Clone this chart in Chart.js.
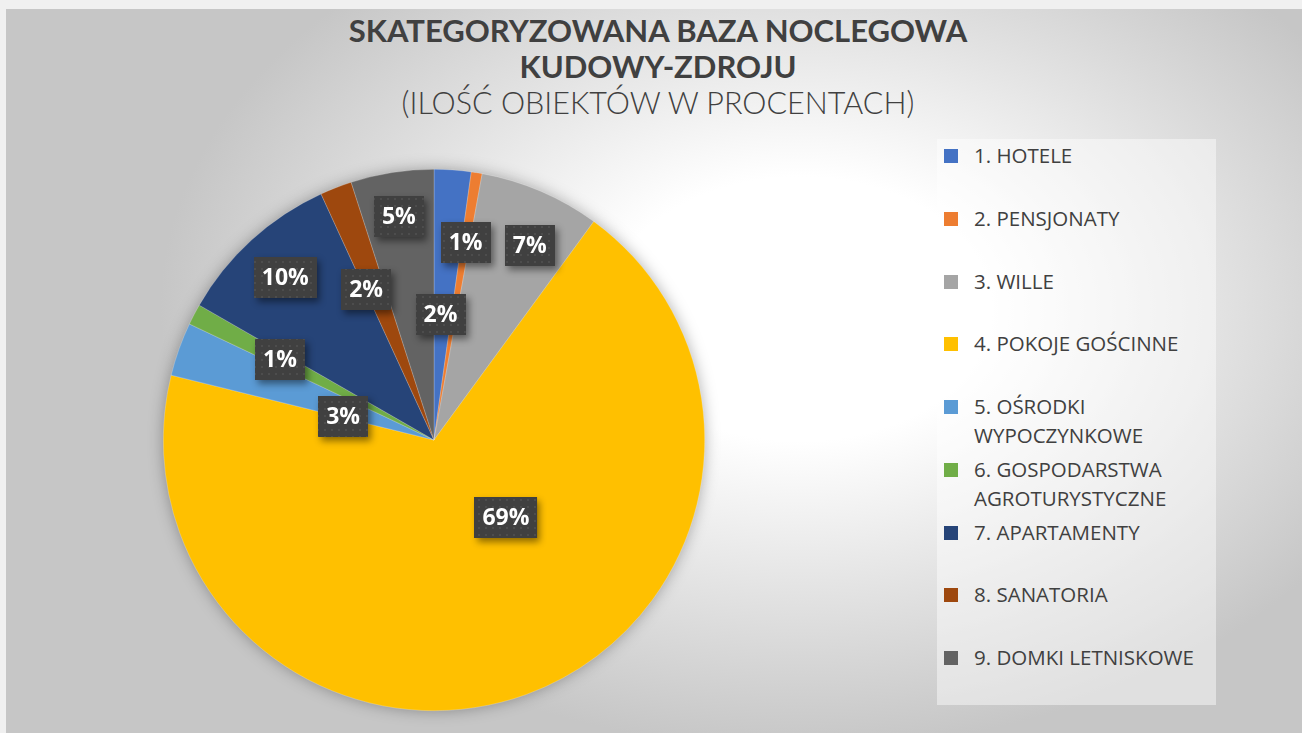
<!DOCTYPE html>
<html>
<head>
<meta charset="utf-8">
<script src="https://cdn.jsdelivr.net/npm/chart.js@4"></script>
<style>
  html, body { margin: 0; padding: 0; }
  body { width: 1302px; height: 733px; background: #f0f0f0; position: relative; overflow: hidden; }
  #slide {
    position: absolute; left: 6px; top: 9px; width: 1296px; height: 724px;
    background: radial-gradient(ellipse 640px 440px at 794px 300px, #ffffff 30%, #c6c6c6 100%);
  }
  #title {
    position: absolute; left: 0; top: 12px; width: 1316px; text-align: center;
    color: #404040; font-family: Lato, "Open Sans", sans-serif; line-height: 36px;
  }
  #title .main { font-weight: 700; font-size: 31px; }
  #title .sub { font-weight: 300; font-size: 30.5px; }
  #legendBox {
    position: absolute; left: 937px; top: 139px; width: 279px; height: 566px;
    background: rgba(255, 255, 255, 0.45);
  }
  .item {
    position: absolute; left: 974px; width: 238px;
    font-family: "Open Sans", sans-serif; font-size: 20.5px; line-height: 29px; color: #404040;
  }
  .swatch { position: absolute; left: -30px; top: 8px; width: 14px; height: 14px; }
  canvas { position: absolute; left: 0; top: 0; }
</style>
</head>
<body>
<div id="slide"></div>
<div id="title">
  <div class="main">SKATEGORYZOWANA BAZA NOCLEGOWA</div>
  <div class="main">KUDOWY-ZDROJU</div>
  <div class="sub">(ILOŚĆ OBIEKTÓW W PROCENTACH)</div>
</div>
<div id="legendBox"></div>
<div id="legend"></div>
<canvas id="pie" width="1302" height="733"></canvas>
<script>
// categories and shares (percent of objects)
const CATEGORIES = [
  '1. HOTELE', '2. PENSJONATY', '3. WILLE', '4. POKOJE GOŚCINNE',
  '5. OŚRODKI WYPOCZYNKOWE', '6. GOSPODARSTWA AGROTURYSTYCZNE',
  '7. APARTAMENTY', '8. SANATORIA', '9. DOMKI LETNISKOWE',
];
const SHARES = [2.2, 0.65, 7.2, 68.8, 3.2, 1.25, 9.85, 1.9, 4.95];
const COLORS = [
  '#4472C4', '#ED7D31', '#A5A5A5', '#FFC000', '#5B9BD5',
  '#70AD47', '#264478', '#9E480E', '#636363',
];

// legend (html, so the long names can wrap like the original)
const legendEl = document.getElementById('legend');
CATEGORIES.forEach((name, i) => {
  const item = document.createElement('div');
  item.className = 'item';
  item.style.top = (141 + i * 62.75) + 'px';
  const sw = document.createElement('span');
  sw.className = 'swatch';
  sw.style.background = COLORS[i];
  item.appendChild(sw);
  item.appendChild(document.createTextNode(name));
  legendEl.appendChild(item);
});

// dotted dark fill used by the value boxes
function makeDotPattern(ctx) {
  const c = document.createElement('canvas');
  c.width = 7; c.height = 7;
  const g = c.getContext('2d');
  g.fillStyle = '#404040';
  g.fillRect(0, 0, 7, 7);
  g.fillStyle = '#4d4d4d';
  g.fillRect(2, 2, 2, 2);
  return ctx.createPattern(c, 'repeat');
}

const pieShadow = {
  id: 'pieShadow',
  beforeDatasetsDraw(chart) {
    const arc = chart.getDatasetMeta(0).data[0];
    if (!arc) return;
    const { x, y, outerRadius } = arc.getProps(['x', 'y', 'outerRadius']);
    const ctx = chart.ctx;
    ctx.save();
    ctx.shadowColor = 'rgba(0,0,0,0.35)';
    ctx.shadowBlur = 16;
    ctx.fillStyle = '#999';
    ctx.beginPath();
    ctx.arc(x, y, outerRadius - 1, 0, Math.PI * 2);
    ctx.fill();
    ctx.restore();
  },
};

const boxLabels = {
  id: 'boxLabels',
  afterDatasetsDraw(chart, args, opts) {
    const ctx = chart.ctx;
    const meta = chart.getDatasetMeta(0);
    const data = chart.data.datasets[0].data;
    const total = data.reduce((a, b) => a + b, 0);
    const pattern = makeDotPattern(ctx);
    ctx.save();
    ctx.font = opts.font;
    ctx.textAlign = 'center';
    ctx.textBaseline = 'middle';
    meta.data.forEach((arc, i) => {
      const p = arc.getProps(['x', 'y', 'startAngle', 'endAngle', 'outerRadius']);
      const mid = (p.startAngle + p.endAngle) / 2 + (opts.shift[i] || 0) * Math.PI / 180;
      const r = p.outerRadius * opts.radius[i];
      const cx = p.x + Math.cos(mid) * r;
      const cy = p.y + Math.sin(mid) * r;
      const text = Math.round(data[i] / total * 100) + '%';
      const w = ctx.measureText(text).width + opts.padX * 2;
      const h = opts.height;
      const bx = Math.round(cx - w / 2), by = Math.round(cy - h / 2);

      ctx.save();
      ctx.shadowColor = 'rgba(0,0,0,0.45)';
      ctx.shadowBlur = 7;
      ctx.shadowOffsetX = 3;
      ctx.shadowOffsetY = 4;
      ctx.fillStyle = '#404040';
      ctx.fillRect(bx, by, w, h);
      ctx.restore();
      ctx.fillStyle = pattern;
      ctx.fillRect(bx, by, w, h);

      ctx.fillStyle = '#ffffff';
      ctx.fillText(text, cx, cy + 1);
    });
    ctx.restore();
  },
};

new Chart(document.getElementById('pie'), {
  type: 'pie',
  data: {
    labels: CATEGORIES,
    datasets: [{
      data: SHARES,
      backgroundColor: COLORS,
      borderColor: 'rgba(255,255,255,0.35)',
      borderWidth: 0.6,
    }],
  },
  options: {
    responsive: false,
    animation: false,
    devicePixelRatio: 1,
    layout: { padding: { left: 163, right: 597, top: 169, bottom: 22 } },
    plugins: {
      legend: { display: false },
      tooltip: { enabled: false },
      title: { display: false },
      boxLabels: {
        font: 'bold 23px "Open Sans", sans-serif',
        padX: 8,
        height: 41,
        radius: [0.465, 0.74, 0.80, 0.39, 0.347, 0.642, 0.815, 0.611, 0.837],
        shift: [-1, 0, 3, -23, -5, 0, 0, -3, 0],
      },
    },
  },
  plugins: [pieShadow, boxLabels],
});
</script>
</body>
</html>
